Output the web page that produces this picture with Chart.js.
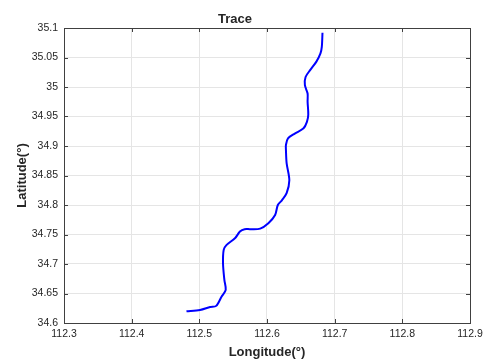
<!DOCTYPE html>
<html>
<head>
<meta charset="utf-8">
<script src="https://cdn.jsdelivr.net/npm/chart.js@4/dist/chart.umd.min.js"></script>
<style>
  body { margin: 0; background: #fff; }
  #wrap { width: 483px; height: 360px; }
</style>
</head>
<body>
<div id="wrap"><canvas id="trace-chart" width="483" height="360"></canvas></div>
<script>
// trace points, from start (south) to end (north)
const longitudes = [
  112.481, 112.501, 112.516, 112.525, 112.533, 112.539, 112.537, 112.535,
  112.536, 112.540, 112.553, 112.560, 112.567, 112.575, 112.590, 112.602,
  112.612, 112.616, 112.622, 112.629, 112.633, 112.629, 112.628, 112.628,
  112.631, 112.641, 112.654, 112.659, 112.661, 112.660, 112.660, 112.656,
  112.657, 112.664, 112.673, 112.679, 112.681, 112.682
];
const latitudes = [
  34.620, 34.622, 34.627, 34.629, 34.645, 34.656, 34.673, 34.701,
  34.724, 34.732, 34.744, 34.755, 34.759, 34.759, 34.760, 34.769,
  34.783, 34.800, 34.808, 34.820, 34.842, 34.871, 34.893, 34.902,
  34.913, 34.921, 34.930, 34.941, 34.953, 34.975, 34.989, 35.003,
  35.017, 35.029, 35.043, 35.057, 35.068, 35.092
];
const lonTicks = [112.3, 112.9, 0.1];   // min, max, step
const latTicks = [34.6, 35.1, 0.05];

const font = "'Liberation Sans', Arial, Helvetica, sans-serif";
const textColor = "#262626";

// MATLAB style box with inward tick marks
const boxPlugin = {
  id: "box",
  afterDatasetsDraw(chart) {
    const { ctx, chartArea: a, scales } = chart;
    const x = scales.x, y = scales.y;
    ctx.save();
    ctx.strokeStyle = "#404040";
    ctx.lineWidth = 1;
    ctx.beginPath();
    x.ticks.forEach((t) => {
      const px = Math.round(x.getPixelForValue(t.value)) + 0.5;
      ctx.moveTo(px, a.bottom); ctx.lineTo(px, a.bottom - 4);
      ctx.moveTo(px, a.top); ctx.lineTo(px, a.top + 4);
    });
    y.ticks.forEach((t) => {
      const py = Math.round(y.getPixelForValue(t.value)) + 0.5;
      ctx.moveTo(a.left, py); ctx.lineTo(a.left + 4, py);
      ctx.moveTo(a.right, py); ctx.lineTo(a.right - 4, py);
    });
    ctx.stroke();
    ctx.strokeRect(Math.round(a.left) + 0.5, Math.round(a.top) + 0.5,
      Math.round(a.width), Math.round(a.height));
    ctx.restore();
  },
};

const fmt = (v) => String(Number(v.toFixed(2)));

new Chart(document.getElementById("trace-chart"), {
  type: "scatter",
  data: {
    datasets: [{
      data: longitudes.map((lon, i) => ({ x: lon, y: latitudes[i] })),
      showLine: true,
      borderColor: "#0000ff",
      borderWidth: 2,
      pointRadius: 0,
      tension: 0.3,
    }],
  },
  options: {
    responsive: false,
    animation: false,
    layout: { padding: { left: 0, right: 13, top: 0, bottom: 0 } },
    plugins: {
      legend: { display: false },
      tooltip: { enabled: false },
      title: {
        display: true,
        text: "Trace",
        color: textColor,
        font: { family: font, size: 13, weight: "bold" },
        padding: { top: 11.2, bottom: 1.2 },
      },
    },
    scales: {
      x: {
        type: "linear",
        min: lonTicks[0], max: lonTicks[1],
        ticks: {
          stepSize: lonTicks[2], color: textColor, padding: 5,
          font: { family: font, size: 10.5 }, maxRotation: 0,
          callback: fmt,
        },
        grid: { color: "#e5e5e5", drawTicks: false },
        border: { display: false },
        title: {
          display: true, text: "Longitude(°)", color: textColor,
          font: { family: font, size: 13, weight: "bold" },
          padding: { top: 0, bottom: 0.2 },
        },
        afterFit: (s) => { s.height = 37; s.paddingLeft = 0; s.paddingRight = 0; },
      },
      y: {
        type: "linear",
        min: latTicks[0], max: latTicks[1],
        ticks: {
          stepSize: latTicks[2], color: textColor, padding: 6,
          font: { family: font, size: 10.5 },
          callback: fmt,
        },
        grid: { color: "#e5e5e5", drawTicks: false },
        border: { display: false },
        title: {
          display: true, text: "Latitude(°)", color: textColor,
          font: { family: font, size: 13, weight: "bold" },
          padding: { top: 14.2, bottom: 0 },
        },
        afterFit: (s) => { s.width = 64; s.paddingTop = 0; s.paddingBottom = 0; },
      },
    },
  },
  plugins: [boxPlugin],
});
</script>
</body>
</html>
